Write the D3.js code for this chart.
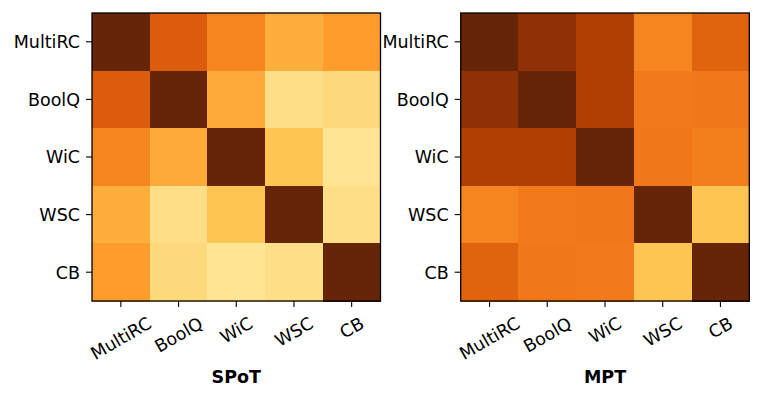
<!DOCTYPE html>
<html>
<head>
<meta charset="utf-8">
<script src="https://cdn.jsdelivr.net/npm/d3@7"></script>
<style>
  html, body { margin: 0; padding: 0; background: #fff; }
  svg text { font-family: "DejaVu Sans", sans-serif; fill: #000; }
</style>
</head>
<body>
<svg id="chart" width="762" height="399"></svg>
<script>
// ---- data ----
const tasks = ["MultiRC", "BoolQ", "WiC", "WSC", "CB"];
const panelTitles = ["SPoT", "MPT"];
const spotValues = [
  [1.00, 0.69, 0.56, 0.44, 0.49],
  [0.69, 1.00, 0.45, 0.27, 0.29],
  [0.56, 0.45, 1.00, 0.37, 0.24],
  [0.44, 0.27, 0.37, 1.00, 0.27],
  [0.49, 0.29, 0.24, 0.27, 1.00]
];
const mptValues = [
  [1.00, 0.90, 0.82, 0.56, 0.67],
  [0.90, 1.00, 0.82, 0.59, 0.60],
  [0.82, 0.82, 1.00, 0.60, 0.58],
  [0.56, 0.59, 0.60, 1.00, 0.37],
  [0.67, 0.60, 0.59, 0.37, 1.00]
];
const cmapStops = ["#ffffe5","#fff7bc","#fee391","#fec44f","#fe9929","#ec7014","#cc4c02","#993404","#662506"];

// ---- layout ----
const svg = d3.select("#chart");
const panels = [
  { title: panelTitles[0], values: spotValues, x0: 92, x1: 380.5 },
  { title: panelTitles[1], values: mptValues, x0: 460.7, x1: 749.3 }
];
const y0 = 13, y1 = 301;
const fontSize = 17.5;
const tickLen = 6, tickPad = 6;

const color = d3.scaleLinear()
  .domain(cmapStops.map((_, i) => i / (cmapStops.length - 1)))
  .range(cmapStops)
  .interpolate(d3.interpolateRgb)
  .clamp(true);

panels.forEach(p => {
  const x = d3.scaleBand().domain(tasks).range([p.x0, p.x1]);
  const y = d3.scaleBand().domain(tasks).range([y0, y1]);
  const g = svg.append("g");

  // cells
  const cells = [];
  p.values.forEach((row, i) => row.forEach((v, j) => cells.push({ r: tasks[i], c: tasks[j], v })));
  g.selectAll("rect.cell").data(cells).join("rect")
    .attr("class", "cell")
    .attr("x", d => x(d.c))
    .attr("y", d => y(d.r))
    .attr("width", x.bandwidth() + 0.5)
    .attr("height", y.bandwidth() + 0.5)
    .attr("fill", d => color(d.v))
    .attr("shape-rendering", "crispEdges");

  // frame
  g.append("rect")
    .attr("x", p.x0).attr("y", y0)
    .attr("width", p.x1 - p.x0).attr("height", y1 - y0)
    .attr("fill", "none").attr("stroke", "#000").attr("stroke-width", 1.3);

  // y axis
  const yAxis = d3.axisLeft(y).tickSize(tickLen).tickPadding(tickPad);
  const ya = g.append("g").attr("transform", `translate(${p.x0},0)`).call(yAxis);
  ya.select(".domain").remove();
  ya.selectAll(".tick line").attr("stroke", "#000").attr("stroke-width", 1.1);
  ya.selectAll(".tick text")
    .style("font-size", fontSize + "px")
    .style("font-family", "DejaVu Sans")
    .attr("dy", "0.36em");

  // x axis
  const xAxis = d3.axisBottom(x).tickSize(tickLen).tickPadding(tickPad);
  const xa = g.append("g").attr("transform", `translate(0,${y1})`).call(xAxis);
  xa.select(".domain").remove();
  xa.selectAll(".tick line").attr("stroke", "#000").attr("stroke-width", 1.1);
  xa.selectAll(".tick text")
    .style("font-size", fontSize + "px")
    .style("font-family", "DejaVu Sans")
    .attr("dy", "0.36em")
    .attr("text-anchor", "middle")
    .each(function () {
      const w = this.getComputedTextLength();
      const capH = 0.729 * fontSize;
      const top = 316 - y1;
      const cy = top + (w * Math.sin(Math.PI / 6)) / 2 + (capH * Math.cos(Math.PI / 6)) / 2;
      d3.select(this)
        .attr("y", 0)
        .attr("transform", `translate(0,${cy}) rotate(-30)`);
    });

  // title
  g.append("text")
    .attr("x", (p.x0 + p.x1) / 2)
    .attr("y", 383)
    .attr("text-anchor", "middle")
    .style("font-size", fontSize + "px")
    .style("font-weight", "bold")
    .text(p.title);
});
</script>
</body>
</html>
